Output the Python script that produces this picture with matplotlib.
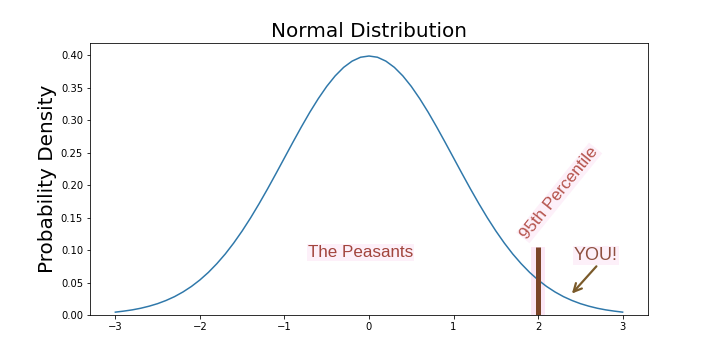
import numpy as np
import matplotlib.pyplot as plt

# standard normal density at 0.1 steps
x_vals = np.round(np.arange(-30, 31) / 10, 1)
y_half = [0.3989, 0.3970, 0.3910, 0.3814, 0.3683, 0.3521, 0.3332, 0.3123,
          0.2897, 0.2661, 0.2420, 0.2179, 0.1942, 0.1714, 0.1497, 0.1295,
          0.1109, 0.0940, 0.0790, 0.0656, 0.0540, 0.0440, 0.0355, 0.0283,
          0.0224, 0.0175, 0.0136, 0.0104, 0.0079, 0.0060, 0.0044]
y_vals = y_half[:0:-1] + y_half

cut_x = 2.0
cut_top = 0.104

fig, ax = plt.subplots(figsize=(10, 5), dpi=72)
fig.subplots_adjust(left=0.125, right=0.9, top=0.88, bottom=0.125)

ax.plot(x_vals, y_vals, color='#2f78aa', lw=1.5)
ax.set_ylim(bottom=0)
ax.set_title('Normal Distribution', fontsize=20)
ax.set_ylabel('Probability Density', fontsize=20)

ax.vlines(cut_x, 0, cut_top, color='#fce8f6', lw=14, zorder=1)
ax.vlines(cut_x, 0, cut_top, color='#7b4428', lw=5, zorder=3)

pink = dict(facecolor='#fdf0f9', edgecolor='none', pad=1)
ax.text(-0.72, 0.097, 'The Peasants', color='#a2453d', fontsize=17,
        family='Liberation Sans', va='center', bbox=pink)
ax.text(2.25, 0.188, '95th Percentile', color='#b5534c', fontsize=17,
        family='Liberation Sans', rotation=51, ha='center', va='center',
        bbox=pink)
ax.text(2.68, 0.091, 'YOU!', color='#8e5040', fontsize=18,
        family='Liberation Sans', ha='center', va='center', bbox=pink)
ax.annotate('', xy=(2.4, 0.033), xytext=(2.69, 0.075),
            arrowprops=dict(arrowstyle='->', color='#7a5a2a', lw=2.2,
                            mutation_scale=20, shrinkA=0, shrinkB=0))

fig.savefig('out.png')
